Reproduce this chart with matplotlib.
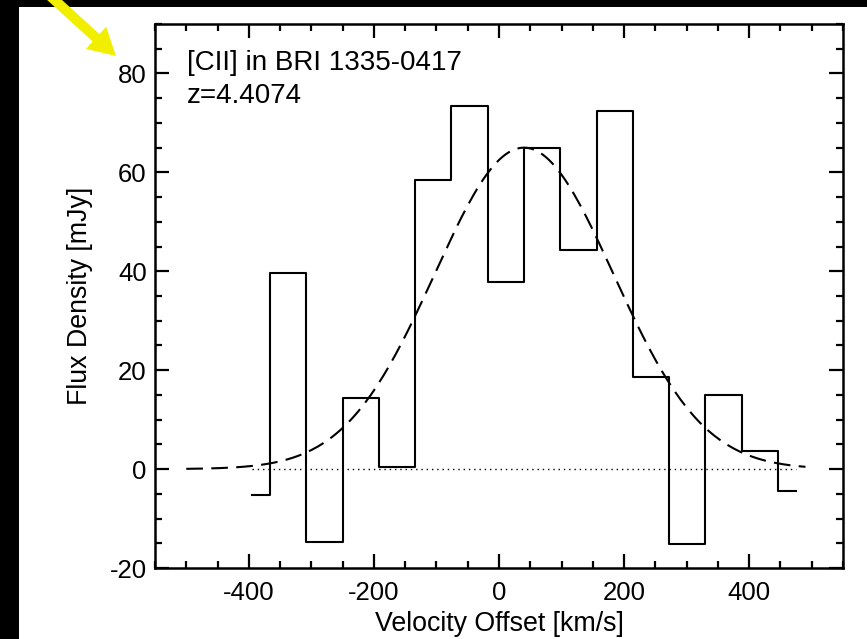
import numpy as np
import matplotlib
matplotlib.use("Agg")
import matplotlib.pyplot as plt
from matplotlib.patches import Rectangle, FancyArrow
from matplotlib.transforms import IdentityTransform

plt.rcParams['font.family'] = ['Liberation Sans', 'DejaVu Sans']
plt.rcParams['axes.unicode_minus'] = False

# channel centres [km/s] and flux densities [mJy]
velocity = [-395, -337, -279, -221, -163, -105, -47, 11, 69, 127, 185, 243, 301, 359, 417, 475]
flux = [-5.2, 39.7, -14.8, 14.4, 0.4, 58.5, 73.5, 37.9, 65.0, 44.3, 72.5, 18.6, -15.2, 15.0, 3.7, -4.4]

# gaussian fit parameters
fit_amp = 65.0      # mJy
fit_center = 40.0   # km/s
fit_sigma = 143.0   # km/s
fit_range = (-500, 490)

xticks = [-400, -200, 0, 200, 400]
yticks = [-20, 0, 20, 40, 60, 80]

fig = plt.figure(figsize=(8.67, 6.39), dpi=100)
fig.patch.set_facecolor('white')

# black frame strips (left and top) of the screenshot
fig.patches.append(Rectangle((0, 0), 19 / 867, 1, transform=fig.transFigure,
                             facecolor='black', edgecolor='none', zorder=0))
fig.patches.append(Rectangle((0, 1 - 7 / 639), 1, 7 / 639, transform=fig.transFigure,
                             facecolor='black', edgecolor='none', zorder=0))

ax = fig.add_axes([155 / 867, 1 - 568 / 639, (843 - 155) / 867, (568 - 24) / 639])

ax.step(velocity, flux, where='mid', color='black', lw=1.5)

vfit = np.arange(fit_range[0], fit_range[1] + 1, 5)
ffit = fit_amp * np.exp(-(vfit - fit_center) ** 2 / (2 * fit_sigma ** 2))
ax.plot(vfit, ffit, color='black', lw=1.5, dashes=(8, 4))

ax.plot([velocity[0], velocity[-1]], [0, 0], color='black', lw=1.0, dashes=(1, 2.8))

ax.set_xlim(-550, 550)
ax.set_ylim(-20, 90)
ax.set_xticks(xticks)
ax.set_yticks(yticks)
ax.set_xticks(np.arange(-550, 551, 50), minor=True)
ax.set_yticks(np.arange(-20, 91, 5), minor=True)
ax.tick_params(which='both', direction='in', top=True, right=True,
               labelsize=18.5, width=1.6, color='black')
ax.tick_params(which='major', length=10)
ax.tick_params(which='minor', length=5)
ax.tick_params(axis='x', pad=9)
ax.tick_params(axis='y', pad=6)
for s in ax.spines.values():
    s.set_linewidth(1.8)

ax.set_xlabel('Velocity Offset [km/s]', fontsize=19.3, labelpad=5)
ax.set_ylabel('Flux Density [mJy]', fontsize=19.3, labelpad=12)

ax.text(0.047, 0.952, '[CII] in BRI 1335-0417\nz=4.4074', transform=ax.transAxes,
        fontsize=20, va='top', ha='left', linespacing=1.32)

# yellow pointer arrow (pixel coordinates, origin bottom-left)
fig.patches.append(FancyArrow(48, 639 + 6, 68, -62, width=10, head_width=30,
                              head_length=27, length_includes_head=True,
                              transform=IdentityTransform(),
                              facecolor='#f2ee00', edgecolor='none', zorder=5))

fig.savefig('out.png', dpi=100)
